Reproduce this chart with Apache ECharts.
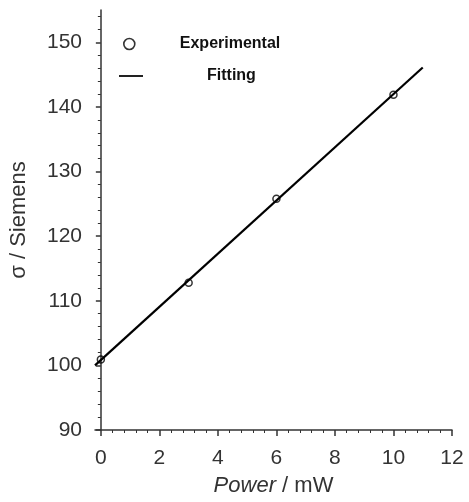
<!DOCTYPE html>
<html>
<head>
<meta charset="utf-8">
<script src="https://cdn.jsdelivr.net/npm/echarts@6/dist/echarts.min.js"></script>
<style>html,body{margin:0;padding:0;background:#fff}#c{width:469px;height:502px}</style>
</head>
<body>
<div id="c"></div>
<script>
// Data
var expX = [0, 3, 6, 10];
var expY = [100.9, 112.8, 125.8, 141.9];
var fitX = [-0.2, 11];
var fitY = [100.0, 146.1];
var xTicks = [0, 2, 4, 6, 8, 10, 12];
var yTicks = [90, 100, 110, 120, 130, 140, 150];
var xRange = [-0.2, 12];
var yRange = [90, 155];

function minorTicks(major, step, count, lo, hi) {
  var out = [];
  var d = (major[1] - major[0]) / count;
  for (var v = major[0] - d * count; v <= hi + 1e-9; v += d) {
    var r = Math.round(v * 1000) / 1000;
    if (r < lo - 1e-9 || r > hi + 1e-9) continue;
    if (major.indexOf(r) >= 0) continue;
    out.push(r);
  }
  return out;
}
var xMinor = minorTicks(xTicks, 2, 5, xRange[0], xRange[1]);
var yMinor = minorTicks(yTicks, 10, 5, yRange[0], yRange[1]);

var FONT = 'Liberation Sans';
var AX = '#333';

var chart = echarts.init(document.getElementById('c'), null, {renderer: 'canvas'});
chart.setOption({
  animation: false,
  backgroundColor: '#fff',
  textStyle: {fontFamily: FONT},
  grid: {left: 95, right: 17, top: 10, bottom: 72, containLabel: false},
  legend: [
    {
      left: 123, top: 36, padding: 0, itemWidth: 11, itemHeight: 11,
      data: [{name: 'Experimental', icon: 'circle',
        itemStyle: {color: 'transparent', borderColor: '#000', borderWidth: 1.6}}],
      textStyle: {fontFamily: FONT, fontSize: 16, fontWeight: 'bold', color: '#111', padding: [0, 0, 0, 40]}
    },
    {
      left: 119, top: 68, padding: 0, itemWidth: 24, itemHeight: 2,
      data: [{name: 'Fitting', icon: 'rect', itemStyle: {color: '#222'}}],
      textStyle: {fontFamily: FONT, fontSize: 16, fontWeight: 'bold', color: '#111', padding: [0, 0, 0, 59]}
    }
  ],
  xAxis: [
    {
      type: 'value', min: xRange[0], max: xRange[1],
      position: 'bottom',
      splitLine: {show: false},
      axisLine: {show: true, lineStyle: {color: AX, width: 1.5}},
      axisTick: {show: true, inside: false, length: 6, customValues: xTicks, lineStyle: {color: AX, width: 1.5}},
      axisLabel: {customValues: xTicks, fontSize: 21, color: AX, margin: 18, fontFamily: FONT},
      name: '{i|Power} / mW',
      nameLocation: 'middle', nameGap: 45,
      nameTextStyle: {fontSize: 22, color: AX, fontFamily: FONT,
        rich: {i: {fontStyle: 'italic', fontSize: 22, color: AX, fontFamily: FONT}}}
    },
    {
      type: 'value', min: xRange[0], max: xRange[1],
      position: 'bottom', offset: 0,
      splitLine: {show: false},
      axisLine: {show: false},
      axisTick: {show: true, inside: false, length: 3, customValues: xMinor, lineStyle: {color: AX, width: 1}},
      axisLabel: {show: false}
    }
  ],
  yAxis: [
    {
      type: 'value', min: yRange[0], max: yRange[1],
      position: 'left',
      splitLine: {show: false},
      axisLine: {show: true, lineStyle: {color: AX, width: 1.5}},
      axisTick: {show: true, inside: false, length: 5, customValues: yTicks, lineStyle: {color: AX, width: 1.5}},
      axisLabel: {customValues: yTicks, fontSize: 21, color: AX, margin: 13, fontFamily: FONT},
      name: 'σ / Siemens',
      nameLocation: 'middle', nameGap: 65,
      nameTextStyle: {fontSize: 22, color: AX, fontFamily: FONT}
    },
    {
      type: 'value', min: yRange[0], max: yRange[1],
      position: 'left', offset: 0,
      splitLine: {show: false},
      axisLine: {show: false},
      axisTick: {show: true, inside: false, length: 3, customValues: yMinor, lineStyle: {color: AX, width: 1}},
      axisLabel: {show: false}
    }
  ],
  series: [
    {
      name: 'Fitting', type: 'line', xAxisIndex: 0, yAxisIndex: 0,
      data: fitX.map(function (x, i) { return [x, fitY[i]]; }),
      symbol: 'none', lineStyle: {color: '#000', width: 2.2}, z: 2
    },
    {
      name: 'Experimental', type: 'scatter', xAxisIndex: 0, yAxisIndex: 0,
      data: expX.map(function (x, i) { return [x, expY[i]]; }),
      symbol: 'circle', symbolSize: 7,
      itemStyle: {color: 'transparent', borderColor: '#000', borderWidth: 1.5}, z: 3
    }
  ]
});
</script>
</body>
</html>
